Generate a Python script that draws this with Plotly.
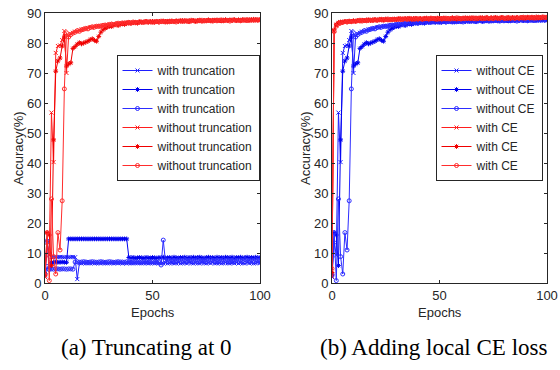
import plotly.graph_objects as go

EPOCHS = list(range(0, 101))

# ---- panel (a): with truncation (blue) ----
TRUNC_1 = [2.5, 13.5, 9.5, 8.6, 8.7, 8.6, 8.6, 8.7, 8.6, 8.6,
           8.7, 8.6, 8.6, 8.7, 8.6, 1.3, 6.6, 6.5, 6.7, 6.6,
           6.5, 6.6, 6.7, 6.5, 6.6, 6.6, 6.5, 6.7, 6.6, 6.5,
           6.6, 6.7, 6.5, 6.6, 6.6, 6.7, 6.5, 6.6, 6.5, 6.7,
           6.6, 6.5, 6.6, 6.7, 6.6, 6.5, 6.6, 6.7, 6.5, 6.6,
           6.6, 6.5, 6.7, 6.6, 6.5, 6.6, 6.8, 6.5, 6.6, 6.7,
           6.5, 6.6, 6.8, 6.5, 6.6, 6.7, 6.5, 6.8, 6.6, 6.5,
           6.7, 6.6, 6.5, 6.8, 6.6, 6.5, 6.7, 6.6, 6.8, 6.5,
           6.6, 6.7, 6.5, 6.6, 6.8, 6.6, 6.5, 6.7, 6.6, 6.8,
           6.5, 6.7, 6.6, 6.5, 6.8, 6.6, 6.7, 6.5, 6.6, 6.8,
           6.6]
TRUNC_2 = [4.0, 14.0, 5.0, 6.9, 6.9, 7.0, 6.9, 6.9, 7.0, 6.9,
           6.9, 14.7, 14.7, 14.7, 14.7, 14.7, 14.7, 14.7, 14.7, 14.7,
           14.7, 14.7, 14.7, 14.7, 14.7, 14.7, 14.7, 14.7, 14.7, 14.7,
           14.7, 14.7, 14.7, 14.7, 14.7, 14.7, 14.7, 14.7, 14.7, 8.5,
           8.4, 8.5, 8.3, 8.4, 8.5, 8.4, 8.3, 8.5, 8.4, 8.3,
           8.5, 8.4, 8.3, 8.5, 8.4, 8.6, 8.3, 8.4, 8.5, 8.3,
           8.6, 8.4, 8.3, 8.5, 8.4, 8.6, 8.3, 8.5, 8.4, 8.6,
           8.3, 8.5, 8.6, 8.4, 8.3, 8.5, 8.6, 8.4, 8.5, 8.3,
           8.6, 8.4, 8.5, 8.3, 8.6, 8.5, 8.4, 8.6, 8.3, 8.5,
           8.4, 8.6, 8.3, 8.5, 8.6, 8.4, 8.5, 8.3, 8.6, 8.4,
           8.5]
TRUNC_3 = [3.0, 5.5, 4.5, 4.7, 4.6, 4.7, 4.7, 4.6, 4.7, 4.7,
           4.6, 4.7, 4.7, 4.6, 7.0, 7.1, 6.9, 7.0, 7.1, 7.0,
           6.9, 7.0, 7.1, 7.0, 6.9, 7.0, 7.1, 7.0, 6.9, 7.0,
           7.1, 7.0, 6.9, 7.0, 7.1, 7.0, 7.0, 6.9, 7.1, 7.0,
           6.9, 7.0, 7.1, 7.0, 6.9, 7.0, 7.1, 7.0, 6.9, 7.0,
           7.1, 7.0, 6.9, 7.0, 6.0, 14.3, 7.4, 7.6, 7.5, 7.7,
           7.5, 7.4, 7.7, 7.6, 7.5, 7.8, 7.4, 7.6, 7.7, 7.5,
           7.6, 7.8, 7.5, 7.4, 7.7, 7.6, 7.5, 7.8, 7.6, 7.4,
           7.7, 7.5, 7.6, 7.8, 7.5, 7.7, 7.4, 7.6, 7.8, 7.5,
           7.6, 7.7, 7.5, 7.8, 7.6, 7.4, 7.7, 7.5, 7.8, 7.6,
           7.7]

# ---- without truncation / without CE (same runs) ----
PLAIN_1 = [2.0, 13.5, 9.3, 56.8, 40.3, 76.7, 79.0, 79.2, 81.0, 84.0,
           70.0, 82.5, 83.0, 83.4, 83.8, 84.0, 84.3, 84.5, 84.6, 84.8,
           85.0, 85.2, 85.0, 85.4, 85.6, 85.5, 85.8, 85.7, 86.0, 85.9,
           86.2, 86.1, 86.4, 86.3, 86.5, 86.4, 86.6, 86.5, 86.8, 86.6,
           86.8, 86.9, 86.7, 87.0, 86.9, 87.1, 86.9, 87.0, 87.2, 87.0,
           87.1, 87.2, 86.9, 87.1, 87.3, 87.0, 87.2, 87.3, 87.1, 87.2,
           87.4, 87.2, 87.3, 87.1, 87.4, 87.3, 87.5, 87.2, 87.4, 87.3,
           87.5, 87.4, 87.2, 87.5, 87.4, 87.6, 87.3, 87.5, 87.4, 87.6,
           87.5, 87.3, 87.6, 87.5, 87.4, 87.6, 87.5, 87.7, 87.4, 87.6,
           87.5, 87.7, 87.6, 87.4, 87.7, 87.5, 87.6, 87.8, 87.5, 87.7,
           87.6]
PLAIN_2 = [3.0, 16.8, 16.0, 5.8, 47.7, 70.6, 74.0, 75.0, 79.0, 82.0,
           72.3, 73.0, 73.4, 78.2, 78.8, 79.6, 80.1, 79.7, 80.0, 80.3,
           80.6, 81.1, 81.4, 80.9, 80.6, 82.2, 83.6, 84.4, 84.9, 85.3,
           85.6, 85.5, 85.9, 86.1, 85.8, 86.2, 86.4, 86.2, 86.5, 86.6,
           86.5, 86.8, 86.7, 86.6, 86.9, 87.0, 86.8, 87.1, 86.9, 87.0,
           87.2, 86.9, 87.1, 87.0, 87.3, 87.1, 87.2, 87.0, 87.3, 87.2,
           87.1, 87.4, 87.2, 87.3, 87.5, 87.2, 87.4, 87.3, 87.6, 87.4,
           87.3, 87.5, 87.4, 87.6, 87.3, 87.5, 87.7, 87.4, 87.6, 87.5,
           87.7, 87.5, 87.4, 87.6, 87.8, 87.5, 87.7, 87.6, 87.8, 87.5,
           87.7, 87.6, 87.8, 87.7, 87.5, 87.8, 87.7, 87.9, 87.6, 87.8,
           87.7]
PLAIN_3 = [2.5, 16.8, 0.8, 28.0, 8.8, 3.0, 16.8, 11.0, 27.4, 64.7,
           83.4, 82.0, 82.8, 83.3, 83.6, 84.1, 83.9, 84.4, 84.6, 84.9,
           84.7, 85.2, 85.4, 85.3, 85.6, 85.5, 85.7, 85.9, 86.0, 85.9,
           86.2, 86.3, 86.1, 86.4, 86.6, 86.5, 86.7, 86.6, 86.8, 86.9,
           86.7, 87.0, 86.9, 86.8, 87.1, 86.9, 87.0, 87.2, 87.0, 87.1,
           86.9, 87.1, 87.2, 87.0, 87.1, 87.3, 87.0, 87.2, 87.1, 87.3,
           87.2, 87.0, 87.3, 87.4, 87.2, 87.4, 87.3, 87.1, 87.4, 87.5,
           87.2, 87.4, 87.6, 87.3, 87.5, 87.4, 87.6, 87.5, 87.3, 87.6,
           87.4, 87.6, 87.7, 87.4, 87.6, 87.5, 87.3, 87.6, 87.7, 87.5,
           87.6, 87.4, 87.7, 87.6, 87.8, 87.5, 87.7, 87.6, 87.8, 87.6,
           87.8]

# ---- panel (b): with CE (red) ----
CE_1 = [2.2, 84.0, 85.9, 86.5, 86.8, 87.0, 86.9, 87.2, 87.1, 87.3,
        87.2, 87.4, 87.3, 87.5, 87.4, 87.6, 87.5, 87.4, 87.7, 87.6,
        87.5, 87.8, 87.6, 87.7, 87.9, 87.6, 87.8, 87.7, 87.9, 87.8,
        88.0, 87.7, 87.9, 88.1, 87.8, 88.0, 87.9, 88.1, 87.8, 88.0,
        88.1, 87.9, 88.2, 88.0, 87.9, 88.2, 88.1, 87.9, 88.2, 88.0,
        88.1, 88.3, 87.9, 88.2, 88.0, 88.3, 88.1, 87.9, 88.2, 88.1,
        88.3, 88.0, 88.2, 88.4, 88.1, 88.0, 88.3, 88.2, 88.4, 88.1,
        88.2, 88.4, 88.0, 88.3, 88.2, 88.5, 88.1, 88.3, 88.4, 88.2,
        88.4, 88.1, 88.3, 88.5, 88.2, 88.4, 88.3, 88.6, 88.2, 88.4,
        88.5, 88.3, 88.6, 88.4, 88.2, 88.5, 88.3, 88.6, 88.4, 88.5,
        88.4]
CE_2 = [3.5, 84.4, 86.2, 86.8, 87.0, 86.9, 87.2, 87.1, 87.3, 87.2,
        87.4, 87.3, 87.5, 87.3, 87.6, 87.5, 87.7, 87.6, 87.5, 87.8,
        87.7, 87.6, 87.9, 87.7, 87.8, 88.0, 87.7, 87.9, 87.8, 88.0,
        87.8, 88.0, 88.1, 87.9, 88.0, 88.2, 87.9, 88.0, 88.2, 88.1,
        87.9, 88.2, 88.0, 88.1, 88.3, 88.0, 88.2, 88.1, 87.9, 88.3,
        88.0, 88.2, 88.1, 88.3, 88.0, 88.2, 88.4, 88.1, 88.0, 88.3,
        88.2, 88.1, 88.4, 88.2, 88.3, 88.1, 88.4, 88.0, 88.3, 88.2,
        88.4, 88.2, 88.3, 88.1, 88.4, 88.3, 88.5, 88.2, 88.3, 88.5,
        88.2, 88.4, 88.3, 88.1, 88.5, 88.3, 88.4, 88.2, 88.5, 88.3,
        88.4, 88.6, 88.3, 88.5, 88.4, 88.7, 88.3, 88.5, 88.4, 88.6,
        88.5]
CE_3 = [4.8, 83.8, 85.6, 86.4, 86.7, 86.9, 87.1, 87.0, 87.2, 87.1,
        87.3, 87.2, 87.4, 87.6, 87.3, 87.5, 87.4, 87.7, 87.6, 87.5,
        87.8, 87.6, 87.7, 87.9, 87.6, 87.8, 88.0, 87.7, 87.9, 87.8,
        87.9, 88.1, 87.8, 88.0, 88.1, 87.9, 88.2, 88.0, 87.9, 88.2,
        88.0, 88.1, 87.9, 88.2, 88.1, 88.0, 88.3, 88.1, 88.2, 87.9,
        88.2, 88.0, 88.3, 88.1, 88.2, 88.0, 88.3, 88.2, 88.4, 88.1,
        88.0, 88.3, 88.1, 88.3, 88.2, 88.4, 88.1, 88.3, 88.2, 88.4,
        88.1, 88.3, 88.5, 88.2, 88.3, 88.1, 88.4, 88.3, 88.2, 88.5,
        88.3, 88.2, 88.5, 88.3, 88.4, 88.2, 88.5, 88.3, 88.4, 88.6,
        88.3, 88.5, 88.4, 88.6, 88.3, 88.4, 88.6, 88.4, 88.7, 88.5,
        88.6]

LABELS_A = ["with truncation", "without truncation"]
LABELS_B = ["without CE", "with CE"]
CAPTIONS = ["(a) Truncating at 0", "(b) Adding local CE loss"]
X_TICKS = [0, 50, 100]
Y_TICKS = [0, 10, 20, 30, 40, 50, 60, 70, 80, 90]

BLUES = ["rgb(30,30,255)", "rgb(0,0,240)", "rgb(45,45,255)"]
REDS = ["rgb(255,30,30)", "rgb(240,0,0)", "rgb(255,45,45)"]
SYMBOLS = ["x-thin-open", "asterisk-open", "circle-open"]

W, H = 560, 370
AX = "#262626"
SANS = "Liberation Sans, Arial, sans-serif"
SERIF = "Liberation Serif, Times New Roman, serif"

fig = go.Figure()


def add_runs(runs, label, colors, xa, ya, legend):
    for run, col, sym in zip(runs, colors, SYMBOLS):
        fig.add_trace(go.Scatter(
            x=EPOCHS[:len(run)], y=run, mode="lines+markers", name=label,
            xaxis=xa, yaxis=ya, legend=legend,
            line=dict(color=col, width=1),
            marker=dict(symbol=sym, size=4, color=col, line=dict(color=col, width=1)),
        ))


add_runs([TRUNC_1, TRUNC_2, TRUNC_3], LABELS_A[0], BLUES, "x", "y", "legend")
add_runs([PLAIN_1, PLAIN_2, PLAIN_3], LABELS_A[1], REDS, "x", "y", "legend")
add_runs([PLAIN_1, PLAIN_2, PLAIN_3], LABELS_B[0], BLUES, "x2", "y2", "legend2")
add_runs([CE_1, CE_2, CE_3], LABELS_B[1], REDS, "x2", "y2", "legend2")

# plot-area geometry (pixels)
L1, R1 = 45, 260
L2, R2 = 332, 547
TOP, BOT = 13, 283


def px(v):
    return v / W


def py(v):
    return 1 - v / H


axis_common = dict(showline=True, linecolor=AX, linewidth=1, mirror="ticks",
                   ticks="inside", ticklen=3, tickcolor=AX, tickwidth=1,
                   showgrid=False, zeroline=False, automargin=False,
                   tickfont=dict(family=SANS, size=13, color=AX))

legend_common = dict(xanchor="center", yanchor="middle",
                     bordercolor=AX, borderwidth=1, bgcolor="white",
                     font=dict(family=SANS, size=12, color=AX),
                     itemwidth=30, tracegroupgap=0)

fig.update_layout(
    width=W, height=H, margin=dict(l=0, r=0, t=0, b=0, autoexpand=False),
    paper_bgcolor="white", plot_bgcolor="white",
    font=dict(family=SANS, color=AX),
    xaxis=dict(domain=[px(L1), px(R1)], range=[0, 100], tickvals=X_TICKS, anchor="y", **axis_common),
    yaxis=dict(domain=[py(BOT), py(TOP)], range=[0, 90], tickvals=Y_TICKS, anchor="x", **axis_common),
    xaxis2=dict(domain=[px(L2), px(R2)], range=[0, 100], tickvals=X_TICKS, anchor="y2", **axis_common),
    yaxis2=dict(domain=[py(BOT), py(TOP)], range=[0, 90], tickvals=Y_TICKS, anchor="x2", **axis_common),
    legend=dict(x=px(188), y=py(118), **legend_common),
    legend2=dict(x=px(489), y=py(118), **legend_common),
    showlegend=True,
)

annotations = []
for left, right, cap, cap_x in [(L1, R1, CAPTIONS[0], 146), (L2, R2, CAPTIONS[1], 433)]:
    annotations.append(dict(text="Accuracy(%)", x=px(left - 27), y=py((TOP + BOT) / 2),
                            xref="paper", yref="paper", xanchor="center", yanchor="middle",
                            showarrow=False, textangle=-90,
                            font=dict(family=SANS, size=13, color=AX)))
    annotations.append(dict(text="Epochs", x=px((left + right) / 2), y=py(312),
                            xref="paper", yref="paper", xanchor="center", yanchor="middle",
                            showarrow=False,
                            font=dict(family=SANS, size=13, color=AX)))
    annotations.append(dict(text=cap, x=px(cap_x), y=py(347),
                            xref="paper", yref="paper", xanchor="center", yanchor="middle",
                            showarrow=False,
                            font=dict(family=SERIF, size=23, color="black")))
fig.update_layout(annotations=annotations)

# remove the browser's default 8px body margin so the figure sits at the page origin
fig.write_html("out.html", config={"displayModeBar": False},
               post_script="document.body.style.margin='0';")
